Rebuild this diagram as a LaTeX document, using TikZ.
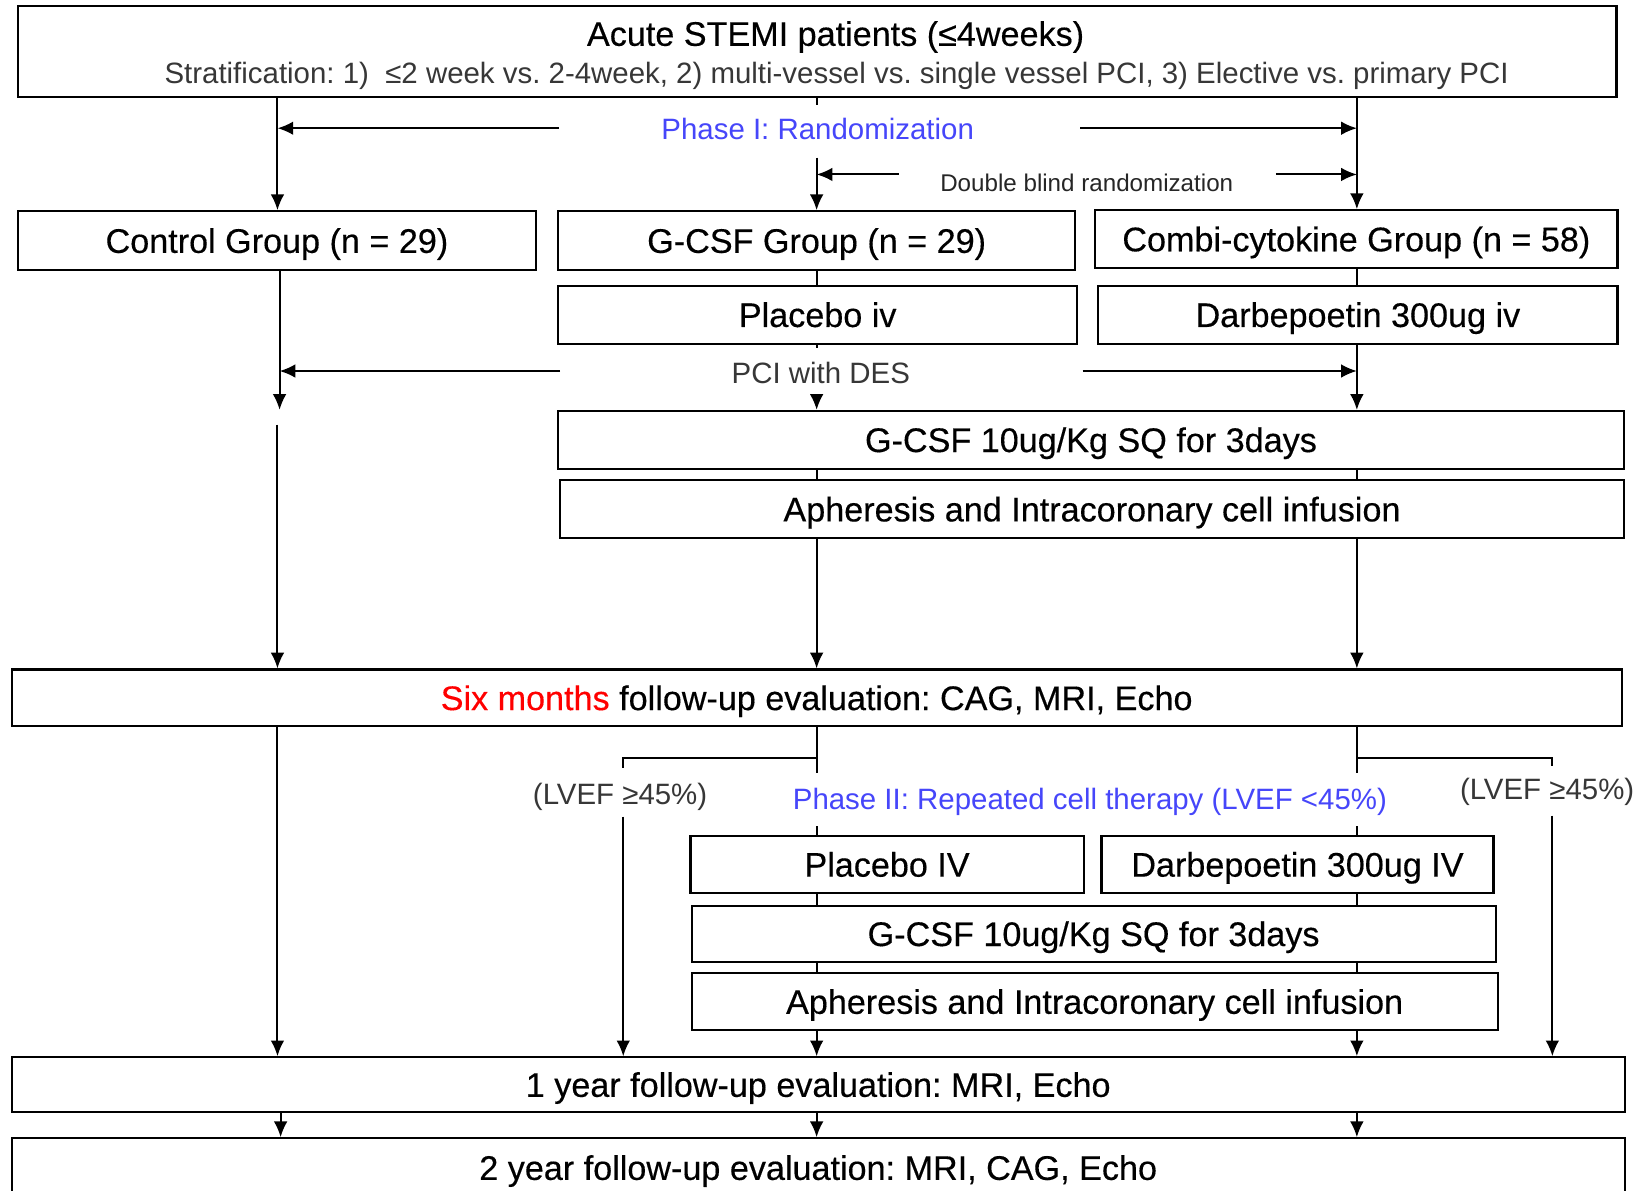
\documentclass[tikz,border=0pt]{standalone}
\usepackage{fontspec}
\setmainfont{Liberation Sans}
\newfontfamily\boxfont[FakeBold=0.35]{Liberation Sans}
\usetikzlibrary{arrows.meta}
\definecolor{phblue}{RGB}{70,70,250}
\definecolor{txtgray}{RGB}{55,55,55}
\definecolor{sixred}{RGB}{255,0,0}
\newcommand\mkbox[6]{%
  \pgfmathsetmacro\mkboxW{(#4-#2)*0.5}%
  \pgfmathsetmacro\mkboxH{(#5-#3)*0.5}%
  \node[box,minimum width=\mkboxW pt,minimum height=\mkboxH pt] (#1) at ({(#2+#4)/2},{(#3+#5)/2}) {#6};}
\tikzset{
  box/.style={draw,line width=1pt,inner sep=0pt,font=\boxfont\fontsize{16.25}{19}\selectfont,text height=11.6pt,text depth=0pt},
  lblM/.style={inner sep=0pt,font=\boxfont\fontsize{16.25}{19}\selectfont,text height=11.6pt,text depth=0pt},
  lblS/.style={inner sep=0pt,font=\fontsize{14}{17}\selectfont,text height=10pt,text depth=0pt},
  lblXS/.style={inner sep=0pt,font=\fontsize{11.5}{14}\selectfont,text height=8.2pt,text depth=0pt},
  ln/.style={line width=0.95pt},
  arr/.style={line width=0.95pt,-{Latex[length=7.5pt,width=6.5pt]}},
}
\begin{document}
\frenchspacing
\begin{tikzpicture}[x=0.5pt,y=-0.5pt]
\fill[white] (0,0) rectangle (1568,1133);
\useasboundingbox (0,0) rectangle (1568,1133);
\coordinate (cL) at (264,0);
\coordinate (cL2) at (266,0);
\coordinate (cL3) at (267,0);
\coordinate (cM) at (777,0);
\coordinate (cR) at (1291,0);
% boxes
\mkbox{top}{17}{6}{1538}{92}{}
\mkbox{ctrl}{17}{201}{510}{257}{Control Group (n = 29)}
\mkbox{gcsf}{531}{201}{1023}{257}{G-CSF Group (n = 29)}
\mkbox{combi}{1042}{200}{1539}{255}{Combi-cytokine Group (n = 58)}
\mkbox{plc}{531}{272}{1025}{327}{Placebo iv}
\mkbox{darb}{1045}{272}{1539}{327}{Darbepoetin 300ug iv}
\mkbox{g1}{531}{391}{1545}{446}{G-CSF 10ug/Kg SQ for 3days}
\mkbox{aph1}{533}{457}{1545}{512}{Apheresis and Intracoronary cell infusion}
\mkbox{sixm}{11}{637}{1543}{691}{{\color{sixred}Six months} follow-up evaluation: CAG, MRI, Echo}
\mkbox{plc2}{657}{795}{1031}{850}{Placebo IV}
\mkbox{darb2}{1048}{795}{1421}{850}{Darbepoetin 300ug IV}
\mkbox{g2}{658}{862}{1423}{915}{G-CSF 10ug/Kg SQ for 3days}
\mkbox{aph2}{658}{926}{1425}{980}{Apheresis and Intracoronary cell infusion}
\mkbox{y1}{11}{1006}{1546}{1058}{1 year follow-up evaluation: MRI, Echo}
\mkbox{y2}{11}{1083}{1546}{1139}{2 year follow-up evaluation: MRI, CAG, Echo}
% labels
\node[lblM] (topA) at (795,32) {Acute STEMI patients (≤4weeks)};
\node[lblS,text=txtgray] (topB) at (796,69) {Stratification: 1)\ \ ≤2 week vs. 2-4week, 2) multi-vessel vs. single vessel PCI, 3) Elective vs. primary PCI};
\node[lblS,text=phblue] (ph1) at (778,123) {Phase I: Randomization};
\node[lblXS,text=black!85] (db) at (1034,174) {Double blind randomization};
\node[lblS,text=txtgray] (pci) at (781,355) {PCI with DES};
\node[lblS,text=txtgray] (lvL) at (590,755) {(LVEF ≥45\%)};
\node[lblS,text=txtgray] (lvR) at (1472,751) {(LVEF ≥45\%)};
\node[lblS,text=phblue] (ph2) at (1037,760) {Phase II: Repeated cell therapy (LVEF <45\%)};
% phase I connectors
\draw[arr] (top.south -| cL) -- (ctrl.north -| cL);
\coordinate (mT1) at (777,100);
\draw[ln] (top.south -| cM) -- (mT1);
\coordinate (mS1) at (777,150);
\draw[arr] (mS1) -- (gcsf.north -| cM);
\draw[arr] (top.south -| cR) -- (combi.north -| cR);
\coordinate (p1a) at (532,122);
\draw[arr] (p1a) -- (p1a -| cL);
\coordinate (p1b) at (1028,122);
\draw[arr] (p1b) -- (p1b -| cR);
\coordinate (dba) at (855,166);
\draw[arr] (dba) -- (dba -| cM);
\coordinate (dbb) at (1214,166);
\draw[arr] (dbb) -- (dbb -| cR);
\draw[ln] (gcsf.south -| cM) -- (plc.north -| cM);
\draw[ln] (combi.south -| cR) -- (darb.north -| cR);
\coordinate (lA) at (266,390);
\draw[arr] (ctrl.south -| cL2) -- (lA);
\coordinate (pca) at (533,353);
\draw[arr] (pca) -- (pca -| cL2);
\coordinate (pcb) at (1030,353);
\draw[arr] (pcb) -- (pcb -| cR);
\coordinate (mT2) at (777,331);
\draw[ln] (plc.south -| cM) -- (mT2);
\coordinate (mS2) at (777,376);
\draw[arr] (mS2) -- (g1.north -| cM);
\draw[arr] (darb.south -| cR) -- (g1.north -| cR);
\draw[ln] (g1.south -| cM) -- (aph1.north -| cM);
\draw[ln] (g1.south -| cR) -- (aph1.north -| cR);
\draw[arr] (aph1.south -| cM) -- (sixm.north -| cM);
\draw[arr] (aph1.south -| cR) -- (sixm.north -| cR);
\coordinate (lB) at (264,404);
\draw[arr] (lB) -- (sixm.north -| cL);
% phase II connectors
\draw[arr] (sixm.south -| cL) -- (y1.north -| cL);
\coordinate (mT3) at (777,735);
\draw[ln] (sixm.south -| cM) -- (mT3);
\coordinate (brM) at (777,721);
\coordinate (brL) at (593,731);
\draw[ln] (brM) -| (brL);
\coordinate (lvLs) at (593,777);
\draw[arr] (lvLs) -- (y1.north -| lvLs);
\coordinate (rT3) at (1291,735);
\draw[ln] (sixm.south -| cR) -- (rT3);
\coordinate (brR0) at (1291,721);
\coordinate (brR) at (1477,729);
\draw[ln] (brR0) -| (brR);
\coordinate (lvRs) at (1477,776);
\draw[arr] (lvRs) -- (y1.north -| lvRs);
\coordinate (mS3) at (777,786);
\draw[ln] (mS3) -- (plc2.north -| cM);
\coordinate (rS3) at (1291,786);
\draw[ln] (rS3) -- (darb2.north -| cR);
\draw[ln] (plc2.south -| cM) -- (g2.north -| cM);
\draw[ln] (darb2.south -| cR) -- (g2.north -| cR);
\draw[ln] (g2.south -| cM) -- (aph2.north -| cM);
\draw[ln] (g2.south -| cR) -- (aph2.north -| cR);
\draw[arr] (aph2.south -| cM) -- (y1.north -| cM);
\draw[arr] (aph2.south -| cR) -- (y1.north -| cR);
\draw[arr] (y1.south -| cL3) -- (y2.north -| cL3);
\draw[arr] (y1.south -| cM) -- (y2.north -| cM);
\draw[arr] (y1.south -| cR) -- (y2.north -| cR);
\end{tikzpicture}
\end{document}
